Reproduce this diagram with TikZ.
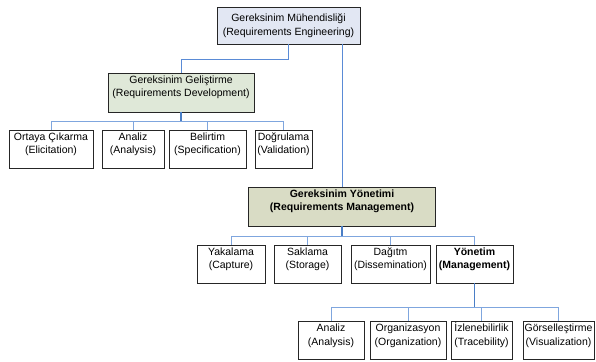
\documentclass[tikz,border=0pt]{standalone}
\usepackage{fontspec}
\setmainfont{Liberation Sans}
\usetikzlibrary{shadows}
\definecolor{topfill}{HTML}{E2E7F3}
\definecolor{devfill}{HTML}{DFE8D8}
\definecolor{mgfill}{HTML}{D9DCC5}
\definecolor{stemblue}{HTML}{4A7EC6}
\definecolor{busblue}{HTML}{7FA6DE}
\definecolor{linkblue}{HTML}{5A8BD6}
\begin{document}
\begin{tikzpicture}[x=1pt,y=-1pt,
  box/.style={draw=black!85, line width=0.8pt, rectangle, inner sep=0pt, fill=white,
    drop shadow={shadow xshift=0.7pt, shadow yshift=-0.7pt, fill=black!55, opacity=1}},
  lbl/.style={anchor=north, align=center, inner sep=0pt, font=\fontsize{10.5}{13.5}\selectfont},
  blbl/.style={lbl, font=\fontsize{10.5}{13.5}\selectfont\bfseries},
  link/.style={draw=linkblue, line width=1pt},
  stem/.style={draw=stemblue, line width=1.2pt},
  bus/.style={draw=busblue, line width=1pt}]
\useasboundingbox (0,0) rectangle (596,361);
% level 0
\node[box, fill=topfill, minimum width=143pt, minimum height=37pt] (top) at (288.5,25.5) {};
\node[lbl, anchor=center] (top-t) at (top.center) {Gereksinim Mühendisliği\\(Requirements Engineering)};
% development
\node[box, fill=devfill, minimum width=146pt, minimum height=39pt] (dev) at (181,92.5) {};
\node[lbl] (dev-t) at ([yshift=-1pt]dev.north) {\strut Gereksinim Geliştirme\\(Requirements Development)};
\node[box, minimum width=84pt, minimum height=38pt] (ort) at (51,149) {};
\node[lbl] (ort-t) at ([yshift=-1pt]ort.north) {\strut Ortaya Çıkarma\\(Elicitation)};
\node[box, minimum width=62pt, minimum height=38pt] (ana1) at (133,149) {};
\node[lbl] (ana1-t) at ([yshift=-1pt]ana1.north) {\strut Analiz\\(Analysis)};
\node[box, minimum width=77pt, minimum height=38pt] (bel) at (207.5,149) {};
\node[lbl] (bel-t) at ([yshift=-1pt]bel.north) {\strut Belirtim\\(Specification)};
\node[box, minimum width=57pt, minimum height=38pt] (dog) at (283.5,149) {};
\node[lbl] (dog-t) at ([yshift=-1pt]dog.north) {\strut Doğrulama\\(Validation)};
% management
\node[box, fill=mgfill, minimum width=187pt, minimum height=39pt] (mg) at (342,206.5) {};
\node[blbl] (mg-t) at ([yshift=-1pt]mg.north) {\strut Gereksinim Yönetimi\\(Requirements Management)};
\node[box, minimum width=68pt, minimum height=38pt] (yak) at (231,264) {};
\node[lbl] (yak-t) at ([yshift=-1pt]yak.north) {\strut Yakalama\\(Capture)};
\node[box, minimum width=67pt, minimum height=38pt] (sak) at (307.5,264) {};
\node[lbl] (sak-t) at ([yshift=-1pt]sak.north) {\strut Saklama\\(Storage)};
\node[box, minimum width=79pt, minimum height=38pt] (dag) at (390.5,264) {};
\node[lbl] (dag-t) at ([yshift=-1pt]dag.north) {\strut Dağıtm\\(Dissemination)};
\node[box, minimum width=77pt, minimum height=38pt] (yon) at (474.5,264) {};
\node[blbl] (yon-t) at ([yshift=-1pt]yon.north) {\strut Yönetim\\(Management)};
% management sub
\node[box, minimum width=66pt, minimum height=38pt] (ana2) at (331,340.5) {};
\node[lbl] (ana2-t) at ([yshift=-1pt]ana2.north) {\strut Analiz\\(Analysis)};
\node[box, minimum width=76pt, minimum height=38pt] (org) at (408,340.5) {};
\node[lbl] (org-t) at ([yshift=-1pt]org.north) {\strut Organizasyon\\(Organization)};
\node[box, minimum width=61pt, minimum height=38pt] (izl) at (481.5,340.5) {};
\node[lbl] (izl-t) at ([yshift=-1pt]izl.north) {\strut İzlenebilirlik\\(Tracebility)};
\node[box, minimum width=71pt, minimum height=38pt] (gor) at (558.5,340.5) {};
\node[lbl] (gor-t) at ([yshift=-1pt]gor.north) {\strut Görselleştirme\\(Visualization)};
% connectors
\draw[link] (top.south) -- ([yshift=-15pt]top.south) -| (dev.north);
\draw[link] (top.south -| mg.north) -- (mg.north);
% dev bus
\draw[stem] (dev.south) -- ++(0,9) coordinate (db);
\draw[bus] (ort.north) |- (db) -| (dog.north);
\draw[bus] (ana1.north) -- (ana1.north |- db);
\draw[bus] (bel.north) -- (bel.north |- db);
% mgmt bus
\draw[stem] (mg.south) -- ++(0,10) coordinate (mb);
\draw[bus] (yak.north) |- (mb) -| (yon.north);
\draw[bus] (sak.north) -- (sak.north |- mb);
\draw[bus] (dag.north) -- (dag.north |- mb);
% yonetim bus
\draw[stem] (yon.south) -- ++(0,24) coordinate (yb);
\draw[bus] (ana2.north) |- (yb) -| (gor.north);
\draw[bus] (org.north) -- (org.north |- yb);
\draw[bus] (izl.north) -- (izl.north |- yb);
% redraw stems on top
\draw[stem] (dev.south) -- (db);
\draw[stem] (mg.south) -- (mb);
\draw[stem] (yon.south) -- (yb);
\end{tikzpicture}
\end{document}
